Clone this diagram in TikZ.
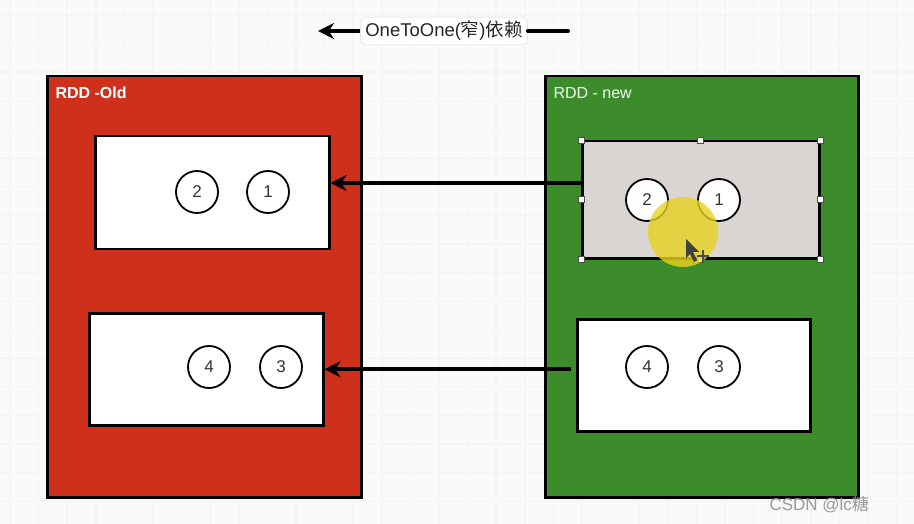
\documentclass[tikz,border=0pt]{standalone}
\usepackage{fontspec}
\setmainfont{Liberation Sans}
\newfontfamily\cjk{Noto Sans CJK SC}
\usetikzlibrary{arrows.meta}
\definecolor{oldred}{RGB}{207,48,28}
\definecolor{newgreen}{RGB}{60,140,44}
\definecolor{selgrey}{RGB}{218,213,211}
\definecolor{gridc}{RGB}{245,245,245}
\definecolor{hilite}{RGB}{232,210,30}
\tikzset{
  gridline/.style={draw=gridc, line width=1.5pt},
  rddbox/.style={draw=black, line width=2.5pt, anchor=north west, inner sep=0pt},
  partbox/.style={draw=black, line width=2.5pt, fill=white, anchor=north west, inner sep=0pt},
  num/.style={circle, draw=black, line width=1.8pt, fill=white, minimum size=42pt, inner sep=0pt, font=\fontsize{17}{17}\selectfont, text=black!80},
  handle/.style={draw=black!70, line width=0.6pt, fill=white, minimum size=6pt, inner sep=0pt},
  arr/.style={line width=4pt, -{Stealth[length=16pt,width=16pt]}},
  rddlabel/.style={anchor=west, text=white, font=\fontsize{16}{16}\selectfont\bfseries},
}
\begin{document}
\begin{tikzpicture}[x=1pt,y=-1pt]
\useasboundingbox (0,0) rectangle (914,524);
\fill[white!98!black] (0,0) rectangle (914,524);
% grid
\foreach \i in {0,...,31} \draw[gridline] ({10+28.6*\i},0) -- ({10+28.6*\i},524);
\foreach \i in {0,...,18} \draw[gridline] (0,{15+28.6*\i}) -- (914,{15+28.6*\i});

% RDD boxes
\node[rddbox, fill=oldred, minimum width=314pt, minimum height=421pt] (old) at (46,75) {};
\node[rddbox, fill=newgreen, minimum width=313pt, minimum height=421pt] (new) at (544,75) {};
\node[rddlabel] (oldlab) at (52,93) {RDD -Old};
\node[rddlabel, text=white!92!green, font=\fontsize{16}{16}\selectfont] (newlab) at (550,93) {RDD - new};

% partitions of old RDD
\node[partbox, minimum width=234pt, minimum height=113pt] (oldTop) at (94,135) {};
\node[partbox, minimum width=234pt, minimum height=112pt] (oldBot) at (88,312) {};
\node[num] (o2) at (197,192) {2};
\node[num] (o1) at (268,192) {1};
\node[num] (o4) at (209,367) {4};
\node[num] (o3) at (281,367) {3};

% partitions of new RDD
\node[partbox, fill=selgrey, minimum width=237pt, minimum height=117pt] (newTop) at (581,140) {};
\node[partbox, minimum width=233pt, minimum height=112pt] (newBot) at (576,318) {};
\node[num] (n2) at (647,200) {2};
\node[num] (n1) at (719,200) {1};
\node[num] (n4) at (647,367) {4};
\node[num] (n3) at (719,367) {3};

% selection handles
\foreach \a in {north west,north,north east,west,east,south west,south,south east}
  \node[handle] at (newTop.\a) {};

% highlight and cursor
\fill[hilite, opacity=0.8] (683,232) circle (35);
\fill[black!75] (686,239) -- (686,258) -- (690,254) -- (694,262) -- (697,260) -- (693,252) -- (699,252) -- cycle;
\draw[black!70, line width=1.2pt] (697,256) -- (709,256) (703,250) -- (703,262);

% dependency arrows
\coordinate (a1) at (581,183);
\draw[arr] (newTop.west |- a1) -- (oldTop.east |- a1);
\draw[arr] ([xshift=-5pt]newBot.west |- oldBot.east) -- (oldBot.east);

% legend
\node[draw=black!15, fill=white, rounded corners=6pt, inner xsep=5pt, inner ysep=4pt, font=\fontsize{18.5}{18.5}\selectfont, text=black!85] (legend) at (444,31) {OneToOne(\cjk 窄\rmfamily)\cjk 依赖};
\coordinate (legR) at (568,31);
\coordinate (legL) at (318,31);
\draw[line width=4pt, line cap=round] (legend.east) -- (legR);
\draw[arr] (legend.west) -- (legL);

% watermark
\node[anchor=west, text=black!40, font=\fontsize{17}{17}\selectfont] (wm) at (766,504) {CSDN @lc\cjk 糖};
\end{tikzpicture}
\end{document}
